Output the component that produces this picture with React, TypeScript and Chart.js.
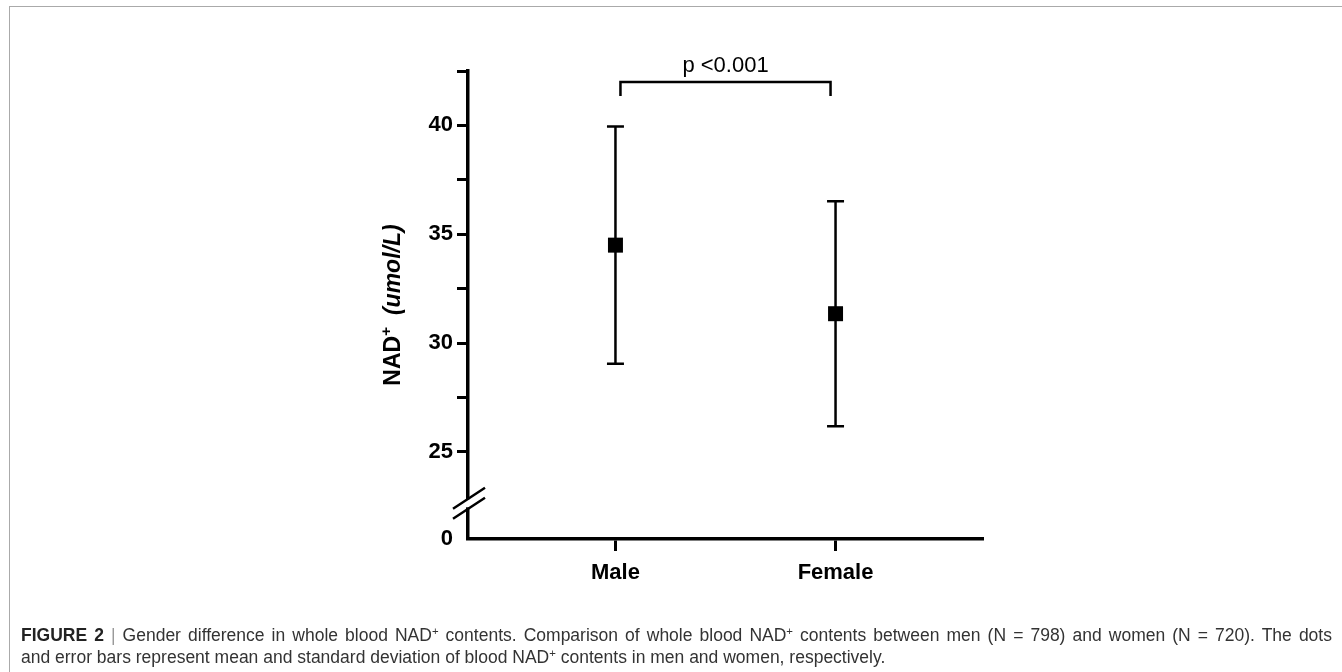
import React, { useEffect, useRef } from "react";
import { Chart, registerables } from "chart.js";

Chart.register(...registerables);

const categories = ["Male", "Female"];
const xPositions = [1, 2];
const means = [34.5, 31.35];
const sds = [5.45, 5.17];
const yTicks = [21, 25, 27.5, 30, 32.5, 35, 37.5, 40, 42.5];
const yTickLabels = ["0", "25", "", "30", "", "35", "", "40", ""];
const pLabel = "p <0.001";
const bracketValue = 42.0;
const bracketLegValue = 41.35;
const breakValue = 22.64;
const FONT = '"Liberation Sans", Arial, Helvetica, sans-serif';

const overlayPlugin = {
  id: "overlay",
  beforeDatasetsDraw(chart: any) {
    const { ctx } = chart;
    const xs = chart.scales.x;
    const ys = chart.scales.y;
    ctx.save();
    ctx.strokeStyle = "#000";
    ctx.lineWidth = 2.5;
    ctx.lineCap = "butt";
    means.forEach((m, i) => {
      const x = xs.getPixelForValue(xPositions[i]);
      const yt = ys.getPixelForValue(m + sds[i]);
      const yb = ys.getPixelForValue(m - sds[i]);
      ctx.beginPath();
      ctx.moveTo(x, yt);
      ctx.lineTo(x, yb);
      ctx.moveTo(x - 8.5, yt);
      ctx.lineTo(x + 8.5, yt);
      ctx.moveTo(x - 8.5, yb);
      ctx.lineTo(x + 8.5, yb);
      ctx.stroke();
    });
    ctx.restore();
  },
  afterDraw(chart: any) {
    const { ctx, chartArea } = chart;
    const xs = chart.scales.x;
    const ys = chart.scales.y;
    ctx.save();
    // axis break
    const x0 = chartArea.left;
    const c = ys.getPixelForValue(breakValue);
    ctx.fillStyle = "#fff";
    ctx.fillRect(x0 - 3, c - 4, 6, 8);
    ctx.strokeStyle = "#000";
    ctx.lineWidth = 2.5;
    ctx.beginPath();
    ctx.moveTo(x0 - 15, c + 5.5);
    ctx.lineTo(x0 + 17, c - 15.5);
    ctx.moveTo(x0 - 15, c + 15.5);
    ctx.lineTo(x0 + 17, c - 5.5);
    ctx.stroke();

    // significance bracket
    const xa = xs.getPixelForValue(xPositions[0]) + 5;
    const xb = xs.getPixelForValue(xPositions[1]) - 5;
    const yBr = ys.getPixelForValue(bracketValue);
    const yLeg = ys.getPixelForValue(bracketLegValue);
    ctx.lineWidth = 2.5;
    ctx.beginPath();
    ctx.moveTo(xa, yLeg);
    ctx.lineTo(xa, yBr);
    ctx.lineTo(xb, yBr);
    ctx.lineTo(xb, yLeg);
    ctx.stroke();
    ctx.fillStyle = "#000";
    ctx.font = `22px ${FONT}`;
    ctx.textAlign = "center";
    ctx.textBaseline = "alphabetic";
    ctx.fillText(pLabel, (xa + xb) / 2, yBr - 10);

    // y axis title
    const cy = (chartArea.top + chartArea.bottom) / 2;
    ctx.translate(400, cy);
    ctx.rotate(-Math.PI / 2);
    const fMain = `bold 23px ${FONT}`;
    const fSup = `bold 15px ${FONT}`;
    const fIt = `italic bold 23px ${FONT}`;
    ctx.font = fMain;
    const w1 = ctx.measureText("NAD").width;
    ctx.font = fSup;
    const w2 = ctx.measureText("+").width;
    ctx.font = fIt;
    const w3 = ctx.measureText("(umol/L)").width;
    const gap = 12;
    const total = w1 + w2 + gap + w3;
    let px = -total / 2;
    ctx.textAlign = "left";
    ctx.font = fMain;
    ctx.fillText("NAD", px, 0);
    px += w1;
    ctx.font = fSup;
    ctx.fillText("+", px, -9);
    px += w2 + gap;
    ctx.font = fIt;
    ctx.fillText("(umol/L)", px, 0);
    ctx.restore();
  },
};

export default function App() {
  const ref = useRef<HTMLCanvasElement>(null);
  useEffect(() => {
    if (!ref.current) return;
    const chart = new Chart(ref.current, {
      type: "scatter",
      data: {
        datasets: [
          {
            data: means.map((m, i) => ({ x: xPositions[i], y: m })),
            pointStyle: "rect",
            pointRadius: 10.6,
            pointHoverRadius: 10.6,
            backgroundColor: "#000",
            borderColor: "#000",
            borderWidth: 0,
            showLine: false,
          },
        ],
      },
      options: {
        animation: false,
        responsive: false,
        maintainAspectRatio: false,
        events: [],
        layout: { padding: { left: 408, right: 359, top: 71, bottom: 73 } },
        plugins: { legend: { display: false }, tooltip: { enabled: false } },
        scales: {
          x: {
            type: "linear",
            min: 0.33,
            max: 2.67,
            afterBuildTicks: (s: any) => {
              s.ticks = xPositions.map((v) => ({ value: v }));
            },
            afterFit: (s: any) => {
              s.height = 60;
            },
            ticks: {
              callback: (v: any) => {
                const i = xPositions.indexOf(v);
                return i >= 0 ? categories[i] : "";
              },
              font: { family: FONT, size: 22, weight: "bold" },
              color: "#000",
              padding: 9,
              autoSkip: false,
              maxRotation: 0,
            },
            grid: {
              drawOnChartArea: false,
              drawTicks: true,
              tickLength: 12,
              tickWidth: 3,
              tickColor: "#000",
            },
            border: { display: true, color: "#000", width: 3.5 },
          },
          y: {
            type: "linear",
            min: 21,
            max: 42.5,
            afterBuildTicks: (s: any) => {
              s.ticks = yTicks.map((v) => ({ value: v }));
            },
            afterFit: (s: any) => {
              s.width = 60;
            },
            ticks: {
              callback: (v: any) => {
                const i = yTicks.indexOf(v);
                return i >= 0 ? yTickLabels[i] : "";
              },
              font: { family: FONT, size: 22, weight: "bold" },
              color: "#000",
              padding: 4,
              autoSkip: false,
            },
            grid: {
              drawOnChartArea: false,
              drawTicks: true,
              tickLength: 11,
              tickWidth: 3,
              tickColor: (ctx: any) =>
                ctx.tick && ctx.tick.value === 21 ? "rgba(0,0,0,0)" : "#000",
            },
            border: { display: true, color: "#000", width: 3.5 },
          },
        },
      },
      plugins: [overlayPlugin],
    } as any);
    return () => chart.destroy();
  }, []);

  const capStyle: React.CSSProperties = {
    position: "absolute",
    left: 21,
    whiteSpace: "nowrap",
    fontFamily: FONT,
    fontSize: 17.5,
    lineHeight: "22px",
    color: "#333",
  };
  const sup: React.CSSProperties = { fontSize: "0.65em", verticalAlign: "0.55em" };

  return (
    <div
      style={{
        position: "absolute",
        left: 0,
        top: 0,
        width: 1342,
        height: 672,
        background: "#fff",
        overflow: "hidden",
      }}
    >
      <canvas
        ref={ref}
        width={1342}
        height={672}
        style={{ position: "absolute", left: 0, top: 0, display: "block" }}
      />
      <div
        style={{
          position: "absolute",
          left: 9,
          top: 6,
          width: 1400,
          height: 700,
          borderTop: "1px solid #aaa",
          borderLeft: "1px solid #aaa",
          pointerEvents: "none",
        }}
      />
      <div
        style={{
          ...capStyle,
          top: 620,
          width: 1311,
          whiteSpace: "normal",
          textAlign: "justify",
          textAlignLast: "justify",
        }}
      >
        <b style={{ color: "#222" }}>FIGURE 2</b>
        <span style={{ color: "#999" }}> | </span>
        Gender difference in whole blood NAD<span style={sup}>+</span> contents. Comparison of
        whole blood NAD<span style={sup}>+</span> contents between men (N = 798) and women (N =
        720). The dots
      </div>
      <div style={{ ...capStyle, top: 642 }}>
        and error bars represent mean and standard deviation of blood NAD
        <span style={sup}>+</span> contents in men and women, respectively.
      </div>
    </div>
  );
}
